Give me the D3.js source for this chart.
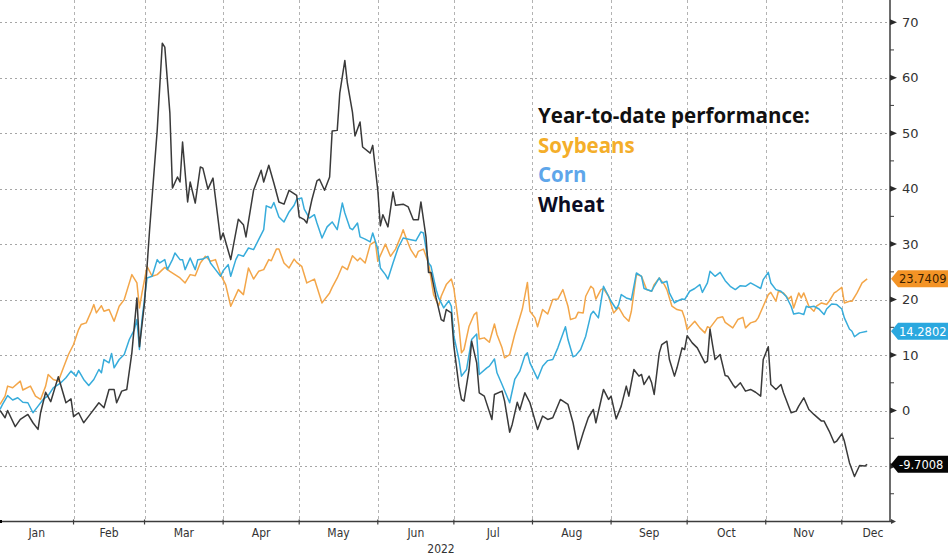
<!DOCTYPE html>
<html>
<head>
<meta charset="utf-8">
<script src="https://cdn.jsdelivr.net/npm/d3@7"></script>
<style>
  body { margin: 0; background: #fff; }
  svg { display: block; }
</style>
</head>
<body>
<div id="chart"></div>
<script>

// days are counted from Jan 1 2022 (0 = Jan 1), values are YTD % change
var soyDays = [2,4,5,7,10,11,14,16,18,20,
  21,23,25,27,29,31,33,34,36,38,
  39,40,42,43,45,47,49,51,54,56,
  57,58,60,62,64,67,69,71,73,75,
  77,79,81,83,85,87,89,91,93,96,
  98,100,102,104,106,108,109,111,112,114,
  116,118,119,121,123,126,129,132,133,135,
  137,139,141,143,144,146,148,150,151,154,
  156,158,160,161,162,164,166,167,169,171,
  173,175,176,178,180,181,183,184,185,187,
  189,190,191,193,195,197,198,200,201,203,
  205,208,210,211,213,214,216,218,220,222,
  224,226,227,229,230,232,233,235,236,237,
  239,240,242,244,246,248,250,251,253,255,
  257,259,260,262,264,265,267,269,271,272,
  273,276,278,280,281,282,285,287,288,291,
  293,295,296,298,300,301,303,305,306,308,
  309,311,313,314,315,317,318,319,321,323,
  324,326,328,329,331,332,334,335,337,338,
  340,342,344];
var soyValues = [1.1,2.6,4.4,4.1,5.3,3.7,4.4,2.6,2,4.4,
  6.5,5.6,5.3,7.7,10.1,11.9,14.6,15.5,15.8,17.9,
  19.1,17.6,18.9,17.9,18.2,16.1,18.8,20,24.5,23,
  18.5,21.2,26,24.2,24.5,25.8,25.1,24.5,23.9,23,
  24.5,24.3,26.6,27.8,26.9,27.2,24.5,22.7,18.8,21.8,
  20.9,25.7,23.7,25.1,25.4,27.2,27,29.1,29.1,26.6,
  25.7,27.3,26.7,26,23,23.7,19.4,21.2,22.2,23.9,
  26,25.4,27.9,27,27.5,26.6,29.9,30.5,26.9,30,
  27.8,29.1,31.3,32.6,31.3,29,27.6,28.7,29.1,26.6,
  20.9,18.9,20.6,22.7,23.7,22,15.2,10.4,11,15.2,
  17.3,17.7,12.9,13.1,12.3,15.6,13.7,11.3,9.5,10.1,
  13.7,18.3,23.1,17.9,16.7,15.1,18.2,17.4,20,20.1,
  21.8,18.8,16.4,16.7,17.7,17.6,20.6,22.4,22,20.1,
  21.8,22,20.6,17.6,18.6,17,16.1,17.9,24.6,24.2,
  21.8,21.5,22.7,23.9,22.7,21.8,18.8,18.2,18,16.7,
  14.6,16.1,14.9,14,15.1,14.9,16.7,16.9,15.9,14.9,
  16.4,16.8,14.9,15.8,16.1,16.7,18.8,20.9,21.3,19.7,
  21.5,21.2,20.1,20.6,18.5,21.2,20.3,21.2,18.8,17.9,
  18.8,19.4,19.1,19.7,21.2,21.5,22.2,19.4,19.7,19.7,
  21.2,23,23.7409];

var cornDays = [2,3,5,7,9,11,13,15,17,19,
  21,23,26,28,30,32,33,35,37,39,
  41,42,43,45,46,47,49,51,53,55,
  56,57,58,60,62,64,65,67,68,70,
  71,73,74,75,77,79,80,82,84,85,
  87,89,90,92,93,95,96,98,100,102,
  104,106,107,109,110,112,114,116,118,119,
  121,122,124,126,127,129,131,133,135,137,
  138,140,141,143,144,146,148,149,151,152,
  154,155,157,159,161,164,166,168,169,171,
  172,174,175,177,179,180,181,183,184,186,
  188,190,191,194,195,197,198,200,203,205,
  207,209,210,211,214,216,218,220,222,225,
  226,228,229,231,233,235,236,238,240,241,
  243,245,246,247,249,251,253,255,256,259,
  260,262,263,265,266,268,269,271,272,274,
  276,278,279,281,282,284,286,288,290,292,
  294,296,298,300,302,303,305,306,308,310,
  312,314,315,317,319,320,321,323,325,327,
  328,330,332,334,335,337,338,339,341,344];
var cornValues = [0.2,1.1,2.7,1.9,2.3,1.5,1.4,-0.4,0.8,2,
  2.7,4.1,5,5.9,7.1,6.2,7.2,5.6,4.5,5.6,
  7.4,6.8,9.2,8.6,10.3,7.7,9.2,10.1,12.8,14.6,
  16.4,11,16.4,23.9,24.2,27.2,26.6,27.2,25.4,27.2,
  28.4,27.2,27.2,25.4,27.5,25.4,27.2,27.3,27.8,26.6,
  25.4,24.2,25.2,26.3,24.2,27.2,28.1,27.8,29.3,29,
  30.8,32.6,36.9,36.5,37.5,34.9,34,35.8,37,38.1,
  38.3,36.3,34.7,35.3,33.8,31.1,33.1,34,32.6,37.4,
  35.6,32.9,32.6,33.8,31.3,30.9,30.4,32,29.1,25.7,
  24.5,23.7,26.6,29.3,31.1,30.8,30.6,32.2,32,26.6,
  26,21.8,20.3,18.5,19.8,18.8,13.4,9.2,6.2,7.4,
  12.8,13.8,6.5,7.7,8,9.3,6.8,4.7,1.4,5.6,
  7.1,9.9,10.4,8.6,5.7,8,9,9.2,11.3,15.1,
  12.8,9.7,9.9,11,13.4,17.3,17.9,16.7,22.4,21.5,
  19.7,18.3,19.1,20.9,20.3,20,24.8,24.2,22,21.5,
  22.4,23.9,23,23.3,21.2,19.4,19.7,20.1,20,21.5,
  22,22.7,21.3,23,25.1,24.2,24.9,23.4,22.4,21.8,
  22.5,22.4,23,22.5,22,23.6,24.9,23,21.8,21.5,
  20.6,18.8,17.4,17.6,17.3,18.8,18.6,18.8,18.3,17.3,
  18.3,19.2,19.1,18.3,16.7,14.7,14.3,13.3,14,14.2802];

var wheatDays = [2,4,5,8,10,13,15,17,18,20,
  22,24,25,28,30,31,33,35,37,41,
  43,45,47,48,50,52,54,56,57,59,
  61,64,66,67,69,70,72,73,74,76,
  77,79,81,82,84,86,89,90,93,96,
  98,99,102,105,106,108,110,112,114,116,
  119,120,122,123,125,127,128,130,132,133,
  135,136,138,139,141,142,144,145,148,149,
  151,152,153,155,157,158,161,163,165,167,
  168,170,171,172,174,176,177,178,180,181,
  183,184,185,187,188,190,191,193,196,197,
  200,201,203,204,206,207,209,211,214,216,
  218,220,223,226,228,230,232,234,236,237,
  240,242,243,245,247,249,250,252,254,255,
  256,258,259,260,262,263,265,266,268,269,
  271,272,273,275,277,280,281,282,283,284,
  286,288,289,291,292,294,296,298,300,302,
  303,305,306,308,310,311,314,316,317,319,
  321,323,326,327,329,331,332,334,335,337,
  339,341,343,344];
var wheatValues = [0,-1.3,0,-2.9,-1.6,-0.7,-2.2,-3.4,-0.4,3.3,
  1.6,4.6,6.1,1.4,2.1,-1.1,-0.4,-2.2,-1,1.4,
  0.5,3.8,3.8,1.4,3.5,3.8,10.4,20.3,11.5,19.4,
  32.6,50.5,66.2,65.5,53.6,40.1,42.1,41.2,48.4,37.6,
  41.2,37.4,43.9,43.7,39.9,41.9,30.8,32,27.2,34.5,
  33.5,31.3,39.7,43.3,41.2,44.2,41,37.6,37.2,39.7,
  38.8,34.9,34.4,33.8,38,41.4,41.7,39.7,42.1,50.4,
  50.5,57.2,63.1,59,53.8,49.5,52,47.5,46.4,47.8,
  39.7,33.3,35.3,33.1,39.4,37,37.2,36.7,34.4,34.4,
  37.6,31.3,24.9,24.9,20.3,16.4,16.1,18.2,17.6,11.6,
  4.4,2,1.7,7.4,12.5,8.6,3.2,2.6,-1.6,2.9,
  3.5,1.7,-3.9,-2.5,1.5,0.1,3.2,1.4,-3.4,-1,
  -1.6,-1.3,2,1.1,-2.2,-7,-4,-1.3,0.2,-2.2,
  3.8,2,2.6,-1.5,0.8,4.4,2.6,7.4,6.2,6.5,
  4.7,6.2,5,2.9,10.4,11.9,12.5,9.2,6.2,7.7,
  11.3,11,13.5,12.2,11.3,8.6,8.9,14.7,11.9,9.2,
  10.1,6.3,6.2,4.7,4.1,5,3.5,3.8,3.3,2.6,
  9.2,11.5,4.7,3.8,4.7,3.2,-0.4,-0.1,0.8,2.3,
  0.2,-0.7,-1.9,-1.9,-3.7,-5.8,-5.5,-4.2,-5.5,-9.4,
  -11.9,-9.9,-10,-9.7008];

var monthLabels = ['Jan','Feb','Mar','Apr','May','Jun','Jul','Aug','Sep','Oct','Nov','Dec'];
var yTicks = [-10,0,10,20,30,40,50,60,70];
var yTickLabels = [0,10,20,30,40,50,60,70];
var yMinorTicks = [-15,-5,5,15,25,35,45,55,65];
var yearLabel = '2022';
var legendTitle = 'Year-to-date performance:';
var seriesNames = ['Soybeans','Corn','Wheat'];

var chart_width = 948;
var chart_height = 558;
var plot_right = 890;
var plot_bottom = 521.5;

var lineColors = ['#f3a649','#37acdb','#3a3a3a'];
var legendColors = ['#f4ae2a','#5ea6ea','#0c0c24'];
var tagColors = ['#f39325','#2ba8df','#050505'];
var tagText = ['#3a1e00','#ffffff','#ffffff'];

function toDate(d) {
  return new Date(2022, 0, 1 + d);
}

var x = d3.scaleTime()
  .domain([new Date(2022, 0, 3), new Date(2022, 11, 20)])
  .range([0, plot_right]);

var y = d3.scaleLinear()
  .domain([-20, 74])
  .range([plot_bottom, 0]);

var svg = d3.select('#chart')
  .append('svg')
  .attr('width', chart_width)
  .attr('height', chart_height);

svg.append('rect')
  .attr('width', chart_width)
  .attr('height', chart_height)
  .attr('fill', '#fff');

// grid
var monthStarts = monthLabels.map(function(m, i) { return new Date(2022, i, 1); });

svg.append('g')
  .selectAll('line')
  .data(yTicks)
  .enter()
  .append('line')
  .attr('x1', 0)
  .attr('x2', plot_right)
  .attr('y1', function(d) { return Math.round(y(d)) + 0.5; })
  .attr('y2', function(d) { return Math.round(y(d)) + 0.5; })
  .attr('stroke', '#a6a6a6')
  .attr('stroke-width', 1)
  .attr('stroke-dasharray', '2,3');

svg.append('g')
  .selectAll('line')
  .data(monthStarts.slice(1))
  .enter()
  .append('line')
  .attr('x1', function(d) { return Math.round(x(d)) + 0.5; })
  .attr('x2', function(d) { return Math.round(x(d)) + 0.5; })
  .attr('y1', 0)
  .attr('y2', plot_bottom)
  .attr('stroke', '#b3b3b3')
  .attr('stroke-width', 1)
  .attr('stroke-dasharray', '3,3');

// lines
var series = [
  {name: seriesNames[0], days: soyDays, values: soyValues},
  {name: seriesNames[1], days: cornDays, values: cornValues},
  {name: seriesNames[2], days: wheatDays, values: wheatValues}
];

var line = d3.line()
  .x(function(d) { return x(toDate(d[0])); })
  .y(function(d) { return y(d[1]); });

series.forEach(function(s, i) {
  svg.append('path')
    .datum(d3.zip(s.days, s.values))
    .attr('d', line)
    .attr('fill', 'none')
    .attr('stroke', lineColors[i])
    .attr('stroke-width', 1.5)
    .attr('stroke-linejoin', 'round');
});

// bottom axis
svg.append('line')
  .attr('x1', 0)
  .attr('x2', plot_right + 2)
  .attr('y1', plot_bottom)
  .attr('y2', plot_bottom)
  .attr('stroke', '#3c3c3c')
  .attr('stroke-width', 1.5);

svg.append('path')
  .attr('d', 'M' + (plot_right + 1) + ',' + (plot_bottom - 2.5) + 'L' + (plot_right + 6) + ',' + plot_bottom + 'L' + (plot_right + 1) + ',' + (plot_bottom + 2.5) + 'Z')
  .attr('fill', '#3c3c3c');

svg.append('g')
  .selectAll('line')
  .data(monthStarts.slice(1))
  .enter()
  .append('line')
  .attr('x1', function(d) { return x(d); })
  .attr('x2', function(d) { return x(d); })
  .attr('y1', plot_bottom - 2)
  .attr('y2', plot_bottom + 3)
  .attr('stroke', '#3c3c3c')
  .attr('stroke-width', 1.2);

svg.append('rect')
  .attr('x', 0)
  .attr('y', plot_bottom - 1.5)
  .attr('width', 2)
  .attr('height', 3)
  .attr('fill', '#000');

svg.append('g')
  .selectAll('text')
  .data(monthStarts)
  .enter()
  .append('text')
  .attr('x', function(d, i) {
    var a = Math.max(0, x(d));
    var b = i < 11 ? x(monthStarts[i + 1]) : plot_right + 14;
    return (a + b) / 2;
  })
  .attr('y', 537)
  .attr('text-anchor', 'middle')
  .attr('font-family', '"DejaVu Sans Condensed", "Liberation Sans Narrow", sans-serif')
  .attr('font-size', '12px')
  .attr('fill', '#333')
  .text(function(d, i) { return monthLabels[i]; });

svg.append('text')
  .attr('x', 441)
  .attr('y', 553)
  .attr('text-anchor', 'middle')
  .attr('font-family', '"DejaVu Sans Condensed", "Liberation Sans Narrow", sans-serif')
  .attr('font-size', '12px')
  .attr('fill', '#333')
  .text(yearLabel);

// right axis
svg.append('line')
  .attr('x1', plot_right)
  .attr('x2', plot_right)
  .attr('y1', 0)
  .attr('y2', plot_bottom)
  .attr('stroke', '#3c3c3c')
  .attr('stroke-width', 1.5);

svg.append('g')
  .selectAll('path')
  .data(yTicks)
  .enter()
  .append('path')
  .attr('d', function(d) {
    var yy = y(d);
    return 'M' + plot_right + ',' + (yy - 3) + 'L' + (plot_right + 7) + ',' + yy + 'L' + plot_right + ',' + (yy + 3) + 'Z';
  })
  .attr('fill', '#2a2a2a');

svg.append('g')
  .selectAll('line')
  .data(yMinorTicks)
  .enter()
  .append('line')
  .attr('x1', plot_right)
  .attr('x2', plot_right + 4)
  .attr('y1', function(d) { return y(d); })
  .attr('y2', function(d) { return y(d); })
  .attr('stroke', '#3c3c3c')
  .attr('stroke-width', 1);

svg.append('g')
  .selectAll('text')
  .data(yTickLabels)
  .enter()
  .append('text')
  .attr('x', 902)
  .attr('y', function(d) { return y(d) + 4.5; })
  .attr('font-family', '"DejaVu Sans", sans-serif')
  .attr('font-size', '13px')
  .attr('fill', '#333')
  .text(function(d) { return d; });

// last value tags
series.forEach(function(s, i) {
  var last = s.values[s.values.length - 1];
  var yy = y(last);
  svg.append('path')
    .attr('d', 'M' + (plot_right + 1) + ',' + yy + 'L' + (plot_right + 8) + ',' + (yy - 8.5) + 'L948,' + (yy - 8.5) + 'L948,' + (yy + 8.5) + 'L' + (plot_right + 8) + ',' + (yy + 8.5) + 'Z')
    .attr('fill', tagColors[i]);
  svg.append('text')
    .attr('x', 899)
    .attr('y', yy + 4.5)
    .attr('font-family', '"DejaVu Sans", sans-serif')
    .attr('font-size', '11.5px')
    .attr('fill', tagText[i])
    .text(last.toFixed(4));
});

// legend
var legend = svg.append('g')
  .attr('font-family', '"Open Sans", sans-serif')
  .attr('font-weight', 'bold')
  .attr('font-size', '20.5px');

legend.append('text')
  .attr('x', 538)
  .attr('y', 123)
  .attr('fill', '#111')
  .text(legendTitle);

seriesNames.forEach(function(n, i) {
  legend.append('text')
    .attr('x', 538)
    .attr('y', 152.5 + i * 29.5)
    .attr('fill', legendColors[i])
    .text(n);
});

</script>
</body>
</html>
